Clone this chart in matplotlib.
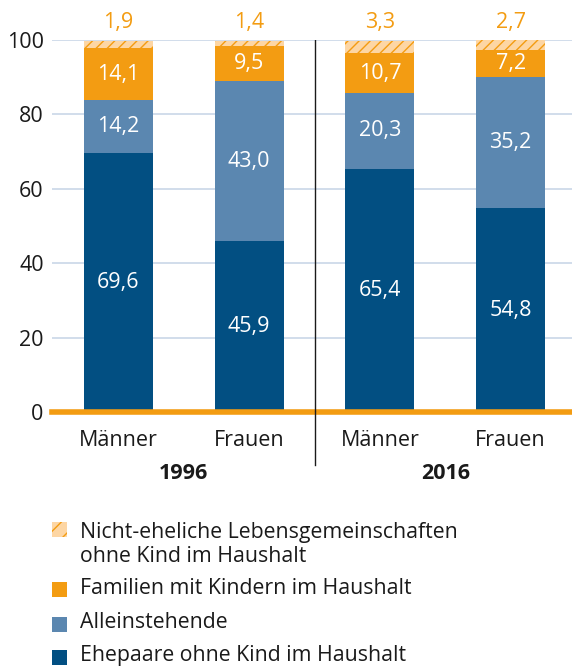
import matplotlib
matplotlib.use("Agg")
import matplotlib.pyplot as plt
from matplotlib.patches import Rectangle
import numpy as np

plt.rcParams["font.family"] = ["Open Sans", "DejaVu Sans"]
plt.rcParams["hatch.linewidth"] = 1.0

groups = ["Männer", "Frauen", "Männer", "Frauen"]
years = ["1996", "2016"]
ehepaare = [69.6, 45.9, 65.4, 54.8]
alleinstehende = [14.2, 43.0, 20.3, 35.2]
familien = [14.1, 9.5, 10.7, 7.2]
nichtehelich = [1.9, 1.4, 3.3, 2.7]

labels = [
    "Nicht-eheliche Lebensgemeinschaften\nohne Kind im Haushalt",
    "Familien mit Kindern im Haushalt",
    "Alleinstehende",
    "Ehepaare ohne Kind im Haushalt",
]

DARK = "#024f82"
MID = "#5b87b0"
ORANGE = "#f39c12"
LIGHT = "#fdd6a4"
GRID = "#c9d7e8"
TXT = "#1a1a1a"
FS = 15.5

W, H = 572, 669
fig = plt.figure(figsize=(W / 100, H / 100), dpi=100)
ax = fig.add_axes([52 / W, (H - 412) / H, 1 - 52 / W, 372 / H])

x = np.arange(len(groups))
width = 0.527

bottom = np.zeros(len(groups))
for vals, col in [(ehepaare, DARK), (alleinstehende, MID), (familien, ORANGE)]:
    ax.bar(x, vals, width, bottom=bottom, color=col, zorder=3)
    for xi, b, v in zip(x, bottom, vals):
        ax.text(xi, b + v / 2, f"{v:.1f}".replace(".", ","), ha="center", va="center",
                color="white", fontsize=FS, zorder=4)
    bottom += np.array(vals)

ax.bar(x, nichtehelich, width, bottom=bottom, color=LIGHT, edgecolor=ORANGE,
       hatch="///", linewidth=0, zorder=3)
for xi, v in zip(x, nichtehelich):
    ax.text(xi, 104.6, f"{v:.1f}".replace(".", ","), ha="center", va="center",
            color=ORANGE, fontsize=FS, clip_on=False)

ax.set_xlim(-0.508, 3.469)
ax.set_ylim(0, 100)
ax.set_yticks(range(0, 101, 20))
ax.tick_params(axis="y", length=0, labelsize=FS, pad=6, colors=TXT)
ax.set_xticks(x)
ax.set_xticklabels(groups)
ax.tick_params(axis="x", length=0, labelsize=FS, pad=13, colors=TXT)
for s in ax.spines.values():
    s.set_visible(False)
ax.yaxis.grid(True, color=GRID, linewidth=1.2, zorder=0)
ax.axhline(0, color=ORANGE, linewidth=4, zorder=5, clip_on=False)

# divider between the years
ax.plot([1.5, 1.5], [0, 100], color=TXT, linewidth=1, zorder=6)
ax.plot([1.5, 1.5], [0, -14.3], color=TXT, linewidth=1, zorder=6, clip_on=False)

for xi, yr in zip([0.5, 2.5], years):
    ax.text(xi, -16.6, yr, ha="center", va="center", fontsize=FS, fontweight="bold",
            color=TXT, clip_on=False)

# legend
legend_rows = [(530, 544.5), (590, 589), (625, 623), (658, 655)]
styles = [dict(facecolor=LIGHT, edgecolor=ORANGE, hatch="//", linewidth=0),
          dict(facecolor=ORANGE, linewidth=0),
          dict(facecolor=MID, linewidth=0),
          dict(facecolor=DARK, linewidth=0)]
for (ysq, ytxt), st, lab in zip(legend_rows, styles, labels):
    fig.add_artist(Rectangle((52 / W, 1 - (ysq + 7) / H), 15 / W, 15 / H,
                             transform=fig.transFigure, **st))
    fig.text(80 / W, 1 - ytxt / H, lab, ha="left", va="center", fontsize=15.3,
             color=TXT, linespacing=1.15)

fig.savefig("out.png", dpi=100)
